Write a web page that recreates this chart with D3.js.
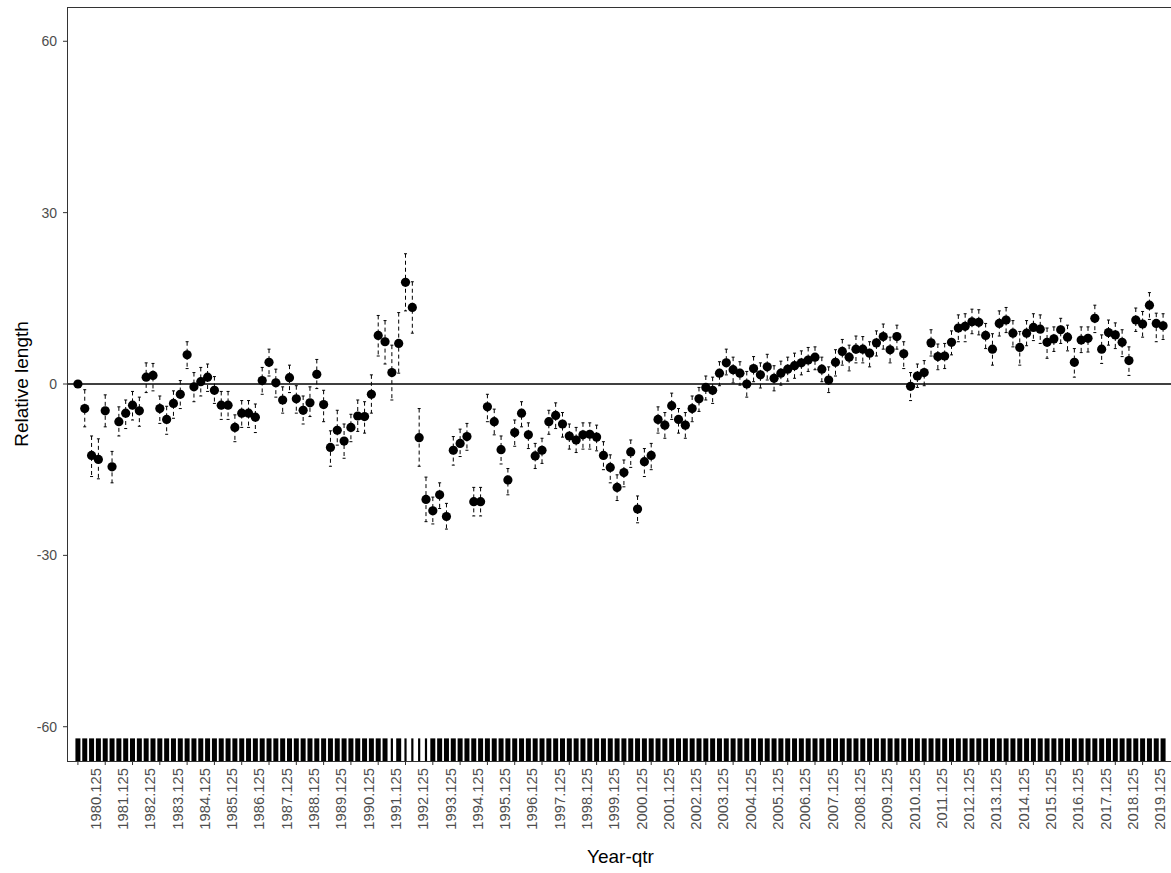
<!DOCTYPE html>
<html>
<head>
<meta charset="utf-8">
<script src="https://cdn.jsdelivr.net/npm/d3@7"></script>
<style>
	body { margin: 0; background: #fff; }
	text { font-family: "Liberation Sans", Arial, sans-serif; }
</style>
</head>
<body>
<div id="chart"></div>
<script>
// year-quarter categories
var years = d3.range(1980, 2020);
var qtrSuffix = ['.125', '.375', '.625', '.875'];

// relative length estimate per quarter, with lower / upper bounds
var estimate = [
	0, -4.3, -12.5, -13.2, -4.7, -14.5, -6.6, -5.1, -3.7, -4.7,
	1.2, 1.5, -4.3, -6.2, -3.4, -1.8, 5.1, -0.5, 0.4, 1.2,
	-1.1, -3.7, -3.7, -7.6, -5.1, -5.1, -5.8, 0.6, 3.8, 0.2,
	-2.8, 1.1, -2.6, -4.6, -3.3, 1.7, -3.6, -11.1, -8.1, -10.0,
	-7.6, -5.6, -5.7, -1.8, 8.5, 7.4, 2.0, 7.1, 17.8, 13.4,
	-9.4, -20.2, -22.2, -19.4, -23.2, -11.6, -10.4, -9.2, -20.6, -20.6,
	-4.0, -6.6, -11.5, -16.8, -8.5, -5.1, -8.9, -12.6, -11.6, -6.6,
	-5.5, -7.0, -9.1, -9.8, -8.9, -8.8, -9.3, -12.5, -14.6, -18.1,
	-15.5, -11.9, -21.9, -13.6, -12.5, -6.2, -7.2, -3.8, -6.2, -7.2,
	-4.3, -2.6, -0.6, -1.1, 1.9, 3.7, 2.5, 1.9, 0.0, 2.7,
	1.6, 3.0, 1.0, 1.9, 2.6, 3.2, 3.7, 4.2, 4.7, 2.6,
	0.7, 3.8, 5.7, 4.7, 6.1, 6.1, 5.4, 7.2, 8.3, 6.0,
	8.3, 5.3, -0.4, 1.4, 2.0, 7.2, 4.8, 4.9, 7.3, 9.8,
	10.1, 10.9, 10.8, 8.5, 6.1, 10.6, 11.2, 8.9, 6.4, 8.9,
	9.9, 9.6, 7.3, 7.9, 9.5, 8.2, 3.8, 7.7, 8.0, 11.5,
	6.1, 9.0, 8.6, 7.3, 4.1, 11.2, 10.5, 13.8, 10.6, 10.2
];
var lower = [
	0, -7.5, -16.2, -16.6, -7.5, -17.3, -9.1, -7.8, -6.3, -7.4,
	-1.5, -1.2, -6.9, -8.8, -6.0, -4.3, 2.7, -3.1, -2.1, -1.3,
	-3.4, -6.2, -6.2, -10.1, -7.6, -7.6, -8.5, -1.8, 1.4, -2.3,
	-5.1, -1.5, -5.1, -7.0, -5.7, -0.8, -6.6, -14.4, -10.7, -13.0,
	-10.1, -8.3, -8.6, -5.1, 4.9, 3.5, -2.8, 1.9, 12.8, 8.9,
	-14.4, -24.1, -24.5, -21.8, -25.4, -14.2, -12.7, -11.6, -23.1, -23.1,
	-6.6, -8.9, -14.0, -19.4, -10.9, -7.5, -11.3, -14.8, -13.9, -8.8,
	-7.8, -9.3, -11.4, -12.0, -11.4, -11.4, -11.7, -15.0, -17.3, -20.4,
	-18.0, -14.6, -24.3, -16.2, -15.0, -8.6, -9.5, -6.2, -8.6, -9.5,
	-6.6, -4.8, -2.8, -3.4, -0.3, 1.6, 0.2, -0.2, -2.3, 0.4,
	-0.7, 0.7, -1.2, -0.2, 0.5, 1.0, 1.6, 2.2, 2.5, 0.4,
	-1.5, 1.4, 3.3, 2.3, 3.7, 3.7, 3.0, 4.9, 6.1, 3.7,
	6.1, 2.7, -2.9, -0.6, -0.3, 4.9, 2.5, 2.7, 5.1, 7.4,
	7.4, 8.8, 8.6, 6.2, 3.3, 8.4, 9.0, 6.5, 3.3, 6.7,
	7.6, 7.1, 4.5, 5.7, 7.1, 5.8, 1.2, 5.5, 5.6, 9.0,
	3.6, 6.8, 6.2, 4.8, 1.5, 9.2, 8.2, 11.3, 7.4, 7.8
];
var upper = [
	0, -1.0, -9.1, -9.6, -1.9, -11.8, -4.0, -2.8, -1.3, -2.3,
	3.7, 3.6, -2.1, -3.9, -1.2, 0.6, 7.4, 2.0, 2.9, 3.5,
	1.3, -1.3, -1.3, -5.4, -2.9, -2.9, -3.5, 2.9, 6.1, 2.6,
	-0.5, 3.3, -0.3, -2.1, -0.5, 4.3, -1.1, -8.2, -4.6, -7.0,
	-5.3, -2.8, -3.1, 1.6, 12.0, 11.1, 6.8, 12.5, 22.8, 17.9,
	-4.3, -16.3, -19.8, -17.3, -20.9, -9.2, -7.9, -6.9, -18.1, -18.1,
	-1.8, -4.4, -9.1, -14.8, -6.3, -3.1, -6.8, -10.4, -9.5, -4.6,
	-3.3, -5.0, -7.0, -7.6, -6.8, -6.8, -7.2, -10.1, -12.4, -15.9,
	-13.3, -9.8, -19.6, -11.3, -10.4, -4.0, -5.0, -1.6, -4.3, -5.0,
	-2.1, -0.6, 1.4, 1.2, 3.9, 6.1, 4.7, 3.9, 2.2, 4.8,
	3.7, 5.2, 3.2, 4.0, 4.7, 5.4, 5.8, 6.4, 6.5, 4.7,
	3.0, 6.0, 7.8, 6.8, 8.4, 8.3, 7.4, 9.3, 10.5, 8.2,
	10.3, 7.4, 2.0, 3.5, 4.1, 9.5, 7.0, 7.1, 9.3, 12.1,
	12.3, 13.1, 13.0, 10.6, 8.8, 12.8, 13.4, 11.1, 9.2, 11.1,
	12.3, 12.1, 9.8, 10.0, 11.5, 10.3, 6.2, 10.0, 10.0, 13.8,
	8.6, 11.2, 10.7, 9.5, 6.5, 13.3, 12.7, 16.0, 12.4, 12.3
];

// quarters with only a few observations (thin rug marks)
var sparseQtrs = ['1991.625', '1992.125', '1992.375', '1992.625', '1992.875'];

var yTicks = [-60, -30, 0, 30, 60];

var SvgWidth = 1171, SvgHeight = 873;
var panelL = 67, panelT = 7, panelR = 1174, panelB = 761;

var qtrs = [];
years.forEach(function(y) {
	qtrSuffix.forEach(function(s) { qtrs.push(y + s); });
});

var data = qtrs.map(function(q, i) {
	return { q: q, est: estimate[i], lo: lower[i], hi: upper[i] };
});

var x = d3.scalePoint().domain(qtrs).range([panelL, panelR]).padding(1.6);
var y = d3.scaleLinear().domain([-66, 66]).range([panelB, panelT]);
var step = x.step();

var svg = d3.select('#chart').append('svg')
	.attr('width', SvgWidth)
	.attr('height', SvgHeight);

svg.append('clipPath').attr('id', 'panel')
	.append('rect')
	.attr('x', panelL).attr('y', panelT)
	.attr('width', panelR - panelL).attr('height', panelB - panelT);

var panel = svg.append('g').attr('clip-path', 'url(#panel)');

// zero reference line
panel.append('line')
	.attr('x1', panelL).attr('x2', panelR)
	.attr('y1', y(0)).attr('y2', y(0))
	.attr('stroke', '#000')
	.attr('stroke-width', 1.4);

// rug along the bottom
panel.selectAll('line.rug')
	.data(data)
	.enter().append('line')
	.attr('class', 'rug')
	.attr('x1', function(d) { return x(d.q); })
	.attr('x2', function(d) { return x(d.q); })
	.attr('y1', panelB)
	.attr('y2', panelB - (panelB - panelT) * 0.03)
	.attr('stroke', '#000')
	.attr('stroke-width', function(d) { return sparseQtrs.indexOf(d.q) >= 0 ? 2.2 : 5; });

// dashed error bars
var hw = step * 0.22;
panel.selectAll('path.err')
	.data(data.filter(function(d) { return d.hi > d.lo; }))
	.enter().append('path')
	.attr('class', 'err')
	.attr('d', function(d) {
		var cx = x(d.q), yt = y(d.hi), yb = y(d.lo);
		return 'M' + (cx - hw) + ' ' + yt + 'H' + (cx + hw) +
			'M' + cx + ' ' + yt + 'V' + yb +
			'M' + (cx - hw) + ' ' + yb + 'H' + (cx + hw);
	})
	.attr('fill', 'none')
	.attr('stroke', '#000')
	.attr('stroke-width', 1)
	.attr('stroke-dasharray', '4,3');

// point estimates
panel.selectAll('circle.pt')
	.data(data)
	.enter().append('circle')
	.attr('class', 'pt')
	.attr('cx', function(d) { return x(d.q); })
	.attr('cy', function(d) { return y(d.est); })
	.attr('r', 4.6)
	.attr('fill', '#000');

// panel border
svg.append('rect')
	.attr('x', panelL + 0.5).attr('y', panelT + 0.5)
	.attr('width', panelR - panelL).attr('height', panelB - panelT)
	.attr('fill', 'none')
	.attr('stroke', '#333')
	.attr('stroke-width', 1);

// y axis
var yAxis = svg.append('g');
yAxis.selectAll('line')
	.data(yTicks)
	.enter().append('line')
	.attr('x1', panelL - 4).attr('x2', panelL)
	.attr('y1', function(d) { return y(d); })
	.attr('y2', function(d) { return y(d); })
	.attr('stroke', '#333');
yAxis.selectAll('text')
	.data(yTicks)
	.enter().append('text')
	.attr('x', panelL - 10)
	.attr('y', function(d) { return y(d); })
	.attr('dy', '0.35em')
	.attr('text-anchor', 'end')
	.attr('font-size', 14)
	.attr('fill', '#4d4d4d')
	.text(function(d) { return d; });

// x axis: a label every fourth quarter
var xBreaks = qtrs.filter(function(q, i) { return i % 4 === 0; });
var xAxis = svg.append('g');
xAxis.selectAll('line')
	.data(xBreaks)
	.enter().append('line')
	.attr('x1', function(d) { return x(d); })
	.attr('x2', function(d) { return x(d); })
	.attr('y1', panelB).attr('y2', panelB + 4)
	.attr('stroke', '#333');
xAxis.selectAll('text')
	.data(xBreaks)
	.enter().append('text')
	.attr('transform', function(d) { return 'translate(' + (x(d) + 17.5) + ',' + (panelB + 7) + ') rotate(-90)'; })
	.attr('dy', '0.35em')
	.attr('text-anchor', 'end')
	.attr('font-size', 14.8)
	.attr('fill', '#4d4d4d')
	.text(function(d) { return d; });

// axis titles
svg.append('text')
	.attr('transform', 'translate(21,' + ((panelT + panelB) / 2) + ') rotate(-90)')
	.attr('dy', '0.35em')
	.attr('text-anchor', 'middle')
	.attr('font-size', 19)
	.attr('fill', '#000')
	.text('Relative length');

svg.append('text')
	.attr('x', (panelL + panelR) / 2)
	.attr('y', 863)
	.attr('text-anchor', 'middle')
	.attr('font-size', 19)
	.attr('fill', '#000')
	.text('Year-qtr');
</script>
</body>
</html>
